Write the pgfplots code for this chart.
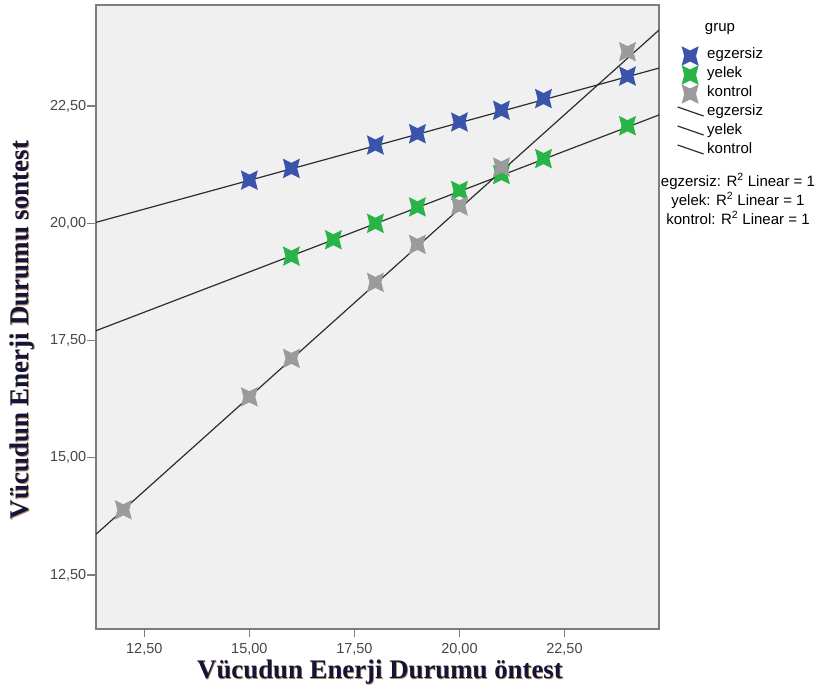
\documentclass[border=0pt]{standalone}
\usepackage{pgfplots}
\pgfplotsset{compat=1.18}
\usepackage{fontspec}
\setmainfont{Liberation Sans}
\newfontfamily\tnr{Liberation Serif}
\definecolor{bgc}{RGB}{240,240,240}
\definecolor{framec}{RGB}{125,125,125}
\definecolor{cblue}{RGB}{57,84,170}
\definecolor{cgreen}{RGB}{40,180,70}
\definecolor{cgrey}{RGB}{155,155,155}
\definecolor{fitline}{RGB}{45,45,45}
\definecolor{labc}{RGB}{20,20,55}
\definecolor{shad}{RGB}{150,95,45}
\definecolor{tickc}{RGB}{70,70,70}

\pgfdeclareplotmark{bowtie}{%
  \pgfpathmoveto{\pgfqpoint{-\pgfplotmarksize}{1.15\pgfplotmarksize}}%
  \pgfpathlineto{\pgfqpoint{0pt}{0.65\pgfplotmarksize}}%
  \pgfpathlineto{\pgfqpoint{\pgfplotmarksize}{1.15\pgfplotmarksize}}%
  \pgfpathlineto{\pgfqpoint{0.7\pgfplotmarksize}{0pt}}%
  \pgfpathlineto{\pgfqpoint{\pgfplotmarksize}{-1.15\pgfplotmarksize}}%
  \pgfpathlineto{\pgfqpoint{0pt}{-0.65\pgfplotmarksize}}%
  \pgfpathlineto{\pgfqpoint{-\pgfplotmarksize}{-1.15\pgfplotmarksize}}%
  \pgfpathlineto{\pgfqpoint{-0.7\pgfplotmarksize}{0pt}}%
  \pgfpathclose
  \pgfusepathqfill
}
\pgfplotsset{fitlegend/.style={legend image code/.code={\draw[##1] (-4pt,6pt) -- (22pt,-3pt);}}}

\begin{document}
\begin{tikzpicture}
\useasboundingbox (-96pt,-63pt) rectangle (721pt,629pt);
\begin{axis}[
  scale only axis, width=563pt, height=624pt,
  at={(0pt,0pt)}, anchor=south west,
  xmin=11.35, xmax=24.75, ymin=11.35, ymax=24.655,
  axis background/.style={fill=bgc},
  axis line style={draw=framec, line width=1.3pt},
  xtick={12.5,15,17.5,20,22.5}, ytick={12.5,15,17.5,20,22.5},
  tick align=outside, tick pos=left, major tick length=8.5pt,
  every tick/.style={draw=framec, line width=1.3pt},
  ticklabel style={font=\fontsize{14.5}{16}\selectfont, text=tickc},
  yticklabel style={inner xsep=1pt},
  xticklabel style={inner ysep=2pt, yshift=-4pt},
  /pgf/number format/fixed, /pgf/number format/fixed zerofill,
  /pgf/number format/precision=2, /pgf/number format/use comma,
  /pgf/number format/assume math mode=true,
  legend style={draw=none, fill=none, at={(1,1)}, anchor=north west,
    xshift=18pt, yshift=-41pt, inner sep=0pt, outer sep=0pt, row sep=-1pt,
    font=\fontsize{15}{17}\selectfont,
    nodes={inner xsep=3pt, inner ysep=3pt, text height=10pt, text depth=4pt}},
  legend cell align=left,
]
\addplot[only marks, mark=bowtie, mark size=8.5pt, color=cblue] coordinates {
  (15,20.92) (16,21.17) (18,21.67) (19,21.91) (20,22.16) (21,22.41) (22,22.66) (24,23.14)};
\addlegendentry{egzersiz}
\addplot[only marks, mark=bowtie, mark size=8.5pt, color=cgreen] coordinates {
  (16,19.30) (17,19.65) (18,20.00) (19,20.35) (20,20.70) (21,21.04) (22,21.38) (24,22.08)};
\addlegendentry{yelek}
\addplot[only marks, mark=bowtie, mark size=8.5pt, color=cgrey] coordinates {
  (12,13.89) (15,16.30) (16,17.12) (18,18.74) (19,19.55) (20,20.37) (21,21.20) (24,23.66)};
\addlegendentry{kontrol}
\addplot[no marks, color=fitline, line width=1.2pt, fitlegend] coordinates {
  (11.35,20.02) (24.75,23.31)};
\addlegendentry{egzersiz}
\addplot[no marks, color=fitline, line width=1.2pt, fitlegend] coordinates {
  (11.35,17.71) (24.75,22.31)};
\addlegendentry{yelek}
\addplot[no marks, color=fitline, line width=1.2pt, fitlegend] coordinates {
  (11.35,13.37) (24.75,24.12)};
\addlegendentry{kontrol}
\end{axis}
% titles and annotations
\node[anchor=base, font=\fontsize{15}{17}\selectfont] at (624pt,597pt) {grup};
\node[align=center, font=\fontsize{15}{19}\selectfont] at (642pt,430pt)
  {egzersiz: R\textsuperscript{2} Linear = 1\\ yelek: R\textsuperscript{2} Linear = 1\\ kontrol: R\textsuperscript{2} Linear = 1};
\node[text=shad, opacity=0.7, font=\tnr\bfseries\fontsize{26.8}{30}\selectfont] at (284.7pt,-43.7pt) {Vücudun Enerji Durumu öntest};
\node[text=labc, font=\tnr\bfseries\fontsize{26.8}{30}\selectfont] at (284pt,-43pt) {Vücudun Enerji Durumu öntest};
\node[rotate=90, text=shad, opacity=0.7, font=\tnr\bfseries\fontsize{27}{30}\selectfont] at (-73.3pt,298.3pt) {Vücudun Enerji Durumu sontest};
\node[rotate=90, text=labc, font=\tnr\bfseries\fontsize{27}{30}\selectfont] at (-74pt,299pt) {Vücudun Enerji Durumu sontest};
\end{tikzpicture}
\end{document}
